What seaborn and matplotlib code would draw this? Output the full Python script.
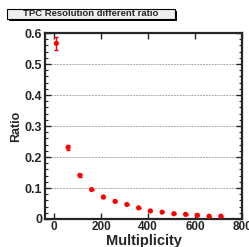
import numpy as np
import pandas as pd
import matplotlib
matplotlib.use("Agg")
import matplotlib.pyplot as plt
import seaborn as sns
from matplotlib.patches import Rectangle

# data
multiplicity = [10, 60, 110, 160, 210, 260, 310, 360, 410, 460, 510, 560, 610, 660, 710]
ratio = [0.567, 0.231, 0.141, 0.095, 0.071, 0.057, 0.047, 0.036, 0.026,
         0.022, 0.017, 0.015, 0.012, 0.009, 0.009]
ratio_err = [0.022, 0.009, 0.005, 0.003, 0.002, 0.002, 0.001, 0.001, 0.001,
             0.001, 0.001, 0.001, 0.001, 0.001, 0.001]
y_ticks = [0, 0.1, 0.2, 0.3, 0.4, 0.5, 0.6]
y_labels = ["0", "0.1", "0.2", "0.3", "0.4", "0.5", "0.6"]
x_ticks = [0, 200, 400, 600, 800]

df = pd.DataFrame({"Multiplicity": multiplicity, "Ratio": ratio, "err": ratio_err})

sns.set_style("ticks")
plt.rcParams["font.family"] = ["Liberation Sans", "DejaVu Sans"]
plt.rcParams["font.weight"] = "bold"

fig = plt.figure(figsize=(2.49, 2.47), dpi=100)
ax = fig.add_axes([0.181, 0.1134, 0.791, 0.7526])

# horizontal dashed grid
for yv in y_ticks[1:-1]:
    ax.axhline(yv, color="#aaaaaa", lw=0.7, ls=(0, (2, 1)), zorder=0)

ax.errorbar(df["Multiplicity"], df["Ratio"], yerr=df["err"], fmt="none",
            ecolor="red", elinewidth=1, capsize=1.5, capthick=1, zorder=2)
sns.scatterplot(data=df, x="Multiplicity", y="Ratio", color="red", s=14,
                edgecolor="none", ax=ax, zorder=3)

ax.set_xlim(-38, 800)
ax.set_ylim(0, 0.6)
ax.set_xticks(x_ticks)
ax.set_xticklabels([str(v) for v in x_ticks], fontsize=8.5, fontweight="bold")
ax.set_yticks(y_ticks)
ax.set_yticklabels(y_labels, fontsize=9, fontweight="bold")
ax.set_yticks(np.arange(0, 0.601, 0.02), minor=True)

ax.tick_params(axis="both", which="major", direction="in", length=4, width=1,
               top=True, right=True, pad=2)
ax.tick_params(axis="x", which="major", pad=1.5)
ax.tick_params(axis="y", which="minor", direction="in", length=2, width=0.8,
               right=True)
for s in ax.spines.values():
    s.set_linewidth(1.6)

ax.set_xlabel("Multiplicity", fontsize=10.5, fontweight="bold", labelpad=1)
ax.set_ylabel("Ratio", fontsize=9, fontweight="bold", labelpad=2)

# title box with shadow
fig.patches.append(Rectangle((0.036, 0.914), 0.675, 0.042, transform=fig.transFigure,
                             facecolor="black", edgecolor="none"))
fig.patches.append(Rectangle((0.028, 0.922), 0.675, 0.042, transform=fig.transFigure,
                             facecolor="#eeeeee", edgecolor="black", lw=0.8))
fig.text(0.365, 0.945, "TPC Resolution different ratio", ha="center", va="center",
         fontsize=6.8, fontweight="bold")

fig.savefig("out.png", dpi=100)
